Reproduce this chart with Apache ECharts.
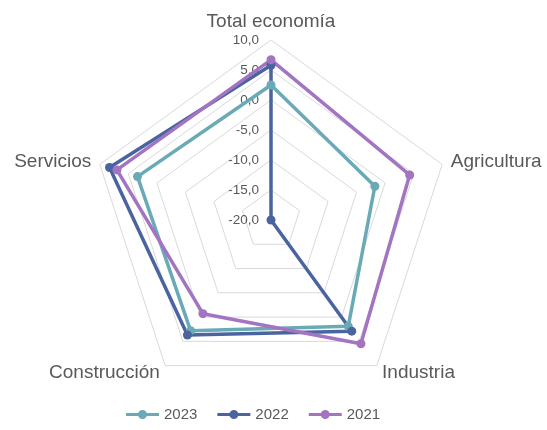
<!DOCTYPE html>
<html>
<head>
<meta charset="utf-8">
<script src="https://cdn.jsdelivr.net/npm/echarts@6/dist/echarts.min.js"></script>
<style>
  html, body { margin: 0; padding: 0; background: #fff; }
  #chart { width: 547px; height: 430px; }
</style>
</head>
<body>
<div id="chart"></div>
<script>
// indicadores en sentido antihorario desde arriba (orden de ECharts)
const indicadores = ['Total economía', 'Servicios', 'Construcción', 'Industria', 'Agricultura']
const años = ['2023', '2022', '2021']
const v2023 = [2.5, 3.4, 2.8, 1.9, -1.8]
const v2022 = [5.8, 8.3, 3.7, 2.9, -20.0]
const v2021 = [6.7, 7.0, -0.7, 5.5, 4.3]
const colores = ['#6aaab7', '#4a64a0', '#a274c2']

const gris = '#595959'
// línea con punto relleno para la leyenda
const iconoLeyenda = 'path://M0,-1.5 h33 v3 h-33 Z M21,0 a4.5,4.5 0 1,1 -9,0 a4.5,4.5 0 1,1 9,0 Z'

const chart = echarts.init(document.getElementById('chart'))
chart.setOption({
  animation: false,
  textStyle: { fontFamily: 'Liberation Sans, Arial, sans-serif' },
  legend: {
    bottom: 3,
    left: 121,
    icon: iconoLeyenda,
    itemWidth: 33,
    itemHeight: 9,
    itemGap: 20,
    textStyle: { color: gris, fontSize: 15 },
    data: años
  },
  radar: {
    center: [271, 220],
    radius: 180,
    startAngle: 90,
    shape: 'polygon',
    splitNumber: 6,
    axisName: { color: gris, fontSize: 19 },
    nameGap: 9,
    axisLine: { show: false },
    axisTick: { show: false },
    axisLabel: { show: false },
    splitArea: { show: false },
    splitLine: { lineStyle: { color: '#d9d9d9', width: 1 } },
    indicator: indicadores.map((n, i) => ({
      name: n,
      min: -20,
      max: 10,
      axisLabel: i === 0 ? {
        show: true,
        color: gris,
        fontSize: 13.5,
        margin: 12,
        formatter: v => v.toFixed(1).replace('.', ',')
      } : { show: false }
    }))
  },
  series: [{
    type: 'radar',
    symbol: 'circle',
    symbolSize: 9,
    data: [v2023, v2022, v2021].map((vals, i) => ({
      name: años[i],
      value: vals,
      itemStyle: { color: colores[i] },
      lineStyle: { color: colores[i], width: 3.5 }
    }))
  }]
})
</script>
</body>
</html>
